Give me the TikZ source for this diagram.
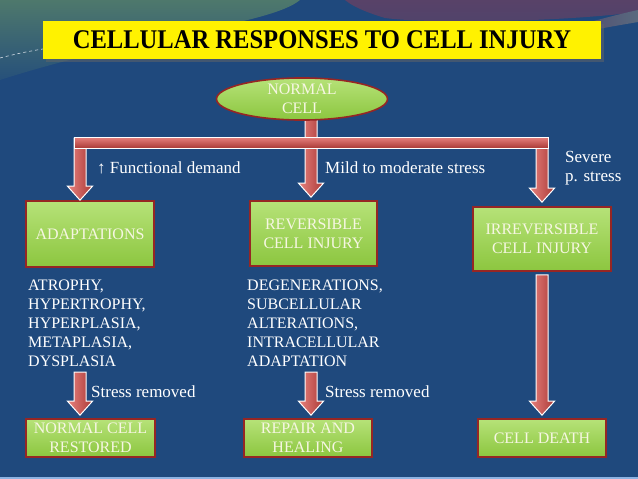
\documentclass[tikz,border=0pt]{standalone}
\usepackage{fontspec}
\setmainfont{Liberation Serif}[BoldFont={Liberation Serif Bold}]
\usetikzlibrary{calc,shapes.geometric}
\definecolor{bgblue}{RGB}{31,73,125}
\definecolor{topgreen}{RGB}{78,120,108}
\definecolor{toppurple}{RGB}{88,66,104}
\definecolor{boxgreenL}{RGB}{182,226,120}
\definecolor{boxgreenD}{RGB}{140,198,63}
\definecolor{boxred}{RGB}{150,38,36}
\definecolor{arrowL}{RGB}{232,130,126}
\definecolor{arrowD}{RGB}{170,58,55}
\definecolor{cream}{RGB}{246,246,226}
\definecolor{lightline}{RGB}{141,179,226}
\tikzset{
  gbox/.style={draw=boxred, line width=1.6pt, top color=boxgreenL, bottom color=boxgreenD,
    text=cream, align=center, inner sep=0pt, font=\fontsize{16}{19}\selectfont},
  arrowstyle/.style={draw=white, line width=1pt, left color=arrowL, right color=arrowD, line join=miter},
  barstyle/.style={draw=white, line width=1pt, top color=arrowL, bottom color=arrowD},
  wlabel/.style={text=white, inner sep=0pt, font=\fontsize{17}{19}\selectfont},
  wlist/.style={text=white, inner sep=0pt, align=left, font=\fontsize{16}{19}\selectfont},
}
\newcommand\varrow[2]{\path[arrowstyle] let \p1=#1, \p2=#2 in
  (\x1-6pt,\y1) -- (\x1+6pt,\y1) -- (\x1+6pt,\y2+14pt) -- (\x1+12.5pt,\y2+14pt) --
  (\x1,\y2) -- (\x1-12.5pt,\y2+14pt) -- (\x1-6pt,\y2+14pt) -- cycle;}
\begin{document}
\begin{tikzpicture}[x=1pt,y=-1pt]
\useasboundingbox (0,0) rectangle (638,479);
% background
\fill[bgblue] (0,0) rectangle (638,479);
\shade[top color=topgreen, bottom color=bgblue!85!topgreen] (0,0) -- (300,0) .. controls (270,25) and (140,35) .. (0,80) -- cycle;
\shade[top color=toppurple, bottom color=toppurple!85!bgblue] (345,0) -- (638,0) -- (638,12) .. controls (560,22) and (430,24) .. (385,18) .. controls (365,12) and (352,6) .. (345,0) -- cycle;
\shade[left color=toppurple!80!bgblue, right color=gray!60!bgblue] (560,30) .. controls (590,22) and (615,15) .. (638,10) -- (638,22) .. controls (615,26) and (590,30) .. (565,36) -- cycle;
\draw[white!80!bgblue, dashed, line width=0.6pt] (0,58) .. controls (15,54) and (30,51) .. (43,49);
\fill[lightline] (0,476.5) rectangle (638,479);
% title
\fill[black!60, opacity=0.5] (46,24) rectangle (604,62);
\node[fill=yellow, minimum width=558pt, minimum height=38pt, inner sep=0pt] (title) at (322,40)
  {\fontsize{27}{30}\selectfont\bfseries\scalebox{0.91}[1]{CELLULAR RESPONSES TO CELL INJURY}};
% connectors (drawn before the nodes that cover their ends)
\coordinate (ts) at (311,112);
\coordinate (bl) at (80,138);
\coordinate (br) at (542,138);
\coordinate (ll) at (80,372);
\coordinate (ml) at (311,372);
% boxes
\node[gbox, minimum width=128pt, minimum height=66pt] (adapt) at (90,234) {ADAPTATIONS};
\node[gbox, minimum width=127pt, minimum height=65pt] (rev) at (313.5,233.5) {REVERSIBLE\\CELL INJURY};
\node[gbox, minimum width=138pt, minimum height=64pt] (irr) at (542,239) {IRREVERSIBLE\\CELL INJURY};
\node[gbox, minimum width=129pt, minimum height=38pt] (nrest) at (90.5,438) {NORMAL CELL\\RESTORED};
\node[gbox, minimum width=128pt, minimum height=38pt] (repair) at (308,438) {REPAIR AND\\HEALING};
\node[gbox, minimum width=128pt, minimum height=38pt] (death) at (542,438) {CELL DEATH};
% arrows
\varrow{(ts)}{([yshift=3pt]rev.north -| ts)}
\varrow{(bl)}{(adapt.north -| bl)}
\varrow{(br)}{([yshift=4pt]irr.north -| br)}
\path[barstyle] (74,137) rectangle (548,148);
\varrow{(ll)}{([yshift=3pt]nrest.north -| ll)}
\varrow{(ml)}{([yshift=3pt]repair.north -| ml)}
\varrow{([yshift=-3pt]irr.south -| br)}{([yshift=3pt]death.north -| br)}
% normal cell ellipse
\node[ellipse, draw=boxred, line width=1.6pt, top color=boxgreenL, bottom color=boxgreenD,
  minimum width=171pt, minimum height=36pt, inner sep=0pt, text=cream, align=center,
  font=\fontsize{16}{19}\selectfont] (normal) at (302,99) {NORMAL\\CELL};
% labels
\node[wlabel, anchor=west] (lfd) at (97,168) {↑ Functional demand};
\node[wlabel, anchor=west] (lmm) at (325,168) {Mild to moderate stress};
\node[wlabel, anchor=north west, align=left] (lsv) at (565,151) {Severe\\p. stress};
\node[wlabel, anchor=west] (lsr1) at (91,392) {Stress removed};
\node[wlabel, anchor=west] (lsr2) at (325,392) {Stress removed};
% lists
\node[wlist, anchor=north west] (list1) at (28,279.5) {ATROPHY,\\HYPERTROPHY,\\HYPERPLASIA,\\METAPLASIA,\\DYSPLASIA};
\node[wlist, anchor=north west] (list2) at (247,279.5) {DEGENERATIONS,\\SUBCELLULAR\\ALTERATIONS,\\INTRACELLULAR\\ADAPTATION};
\end{tikzpicture}
\end{document}
